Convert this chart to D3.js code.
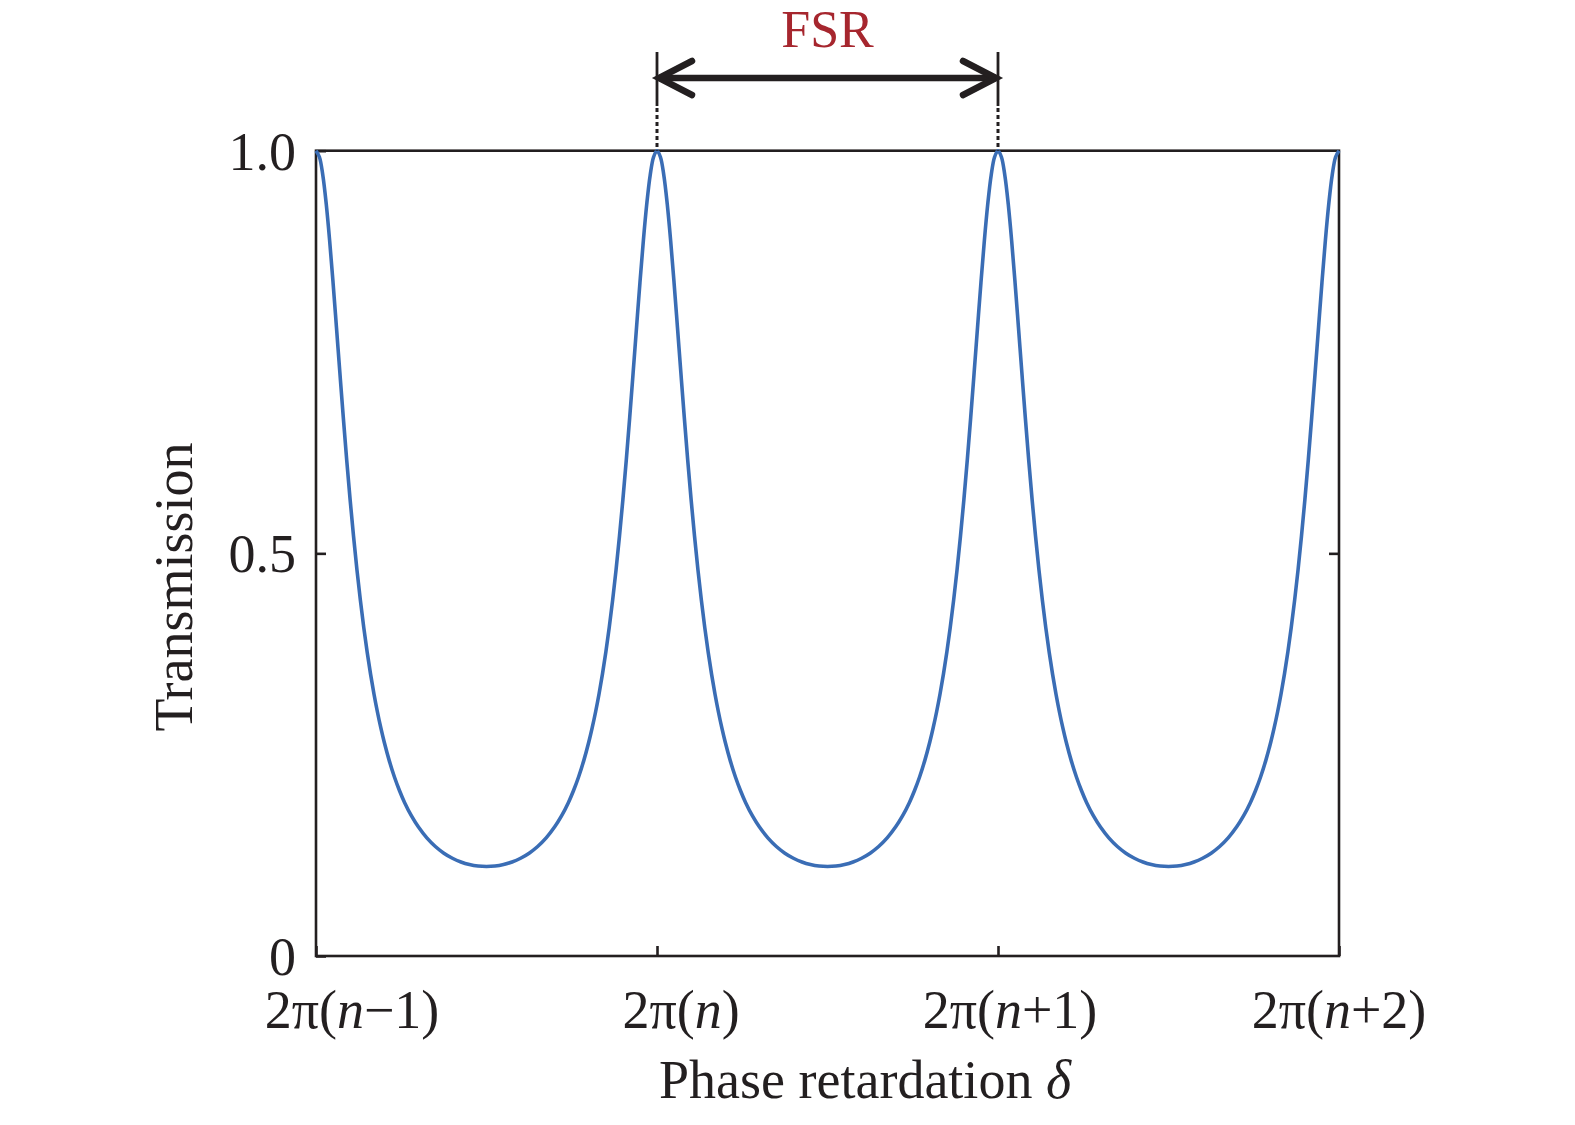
<!DOCTYPE html>
<html>
<head>
<meta charset="utf-8">
<script src="https://cdn.jsdelivr.net/npm/d3@7/dist/d3.min.js"></script>
<style>
  html, body { margin: 0; padding: 0; background: #fff; }
  svg { display: block; }
  text { font-family: "Liberation Serif", "Times New Roman", serif; fill: #231f20; }
</style>
</head>
<body>
<svg id="chart" width="1575" height="1125"></svg>
<script>
// ---- data (phase in units of 2π, relative to 2π(n-1)) ----
const phase = [
  0.00,0.01,0.02,0.03,0.04,0.05,0.06,0.07,0.08,0.09,0.10,0.11,0.12,0.13,0.14,0.15,0.16,0.17,0.18,0.19,0.20,0.215,0.23,0.245,0.26,0.28,0.30,0.325,0.35,0.375,0.40,0.425,0.45,0.475,
  0.50,0.525,0.55,0.575,0.60,0.625,0.65,0.675,0.70,0.72,0.74,0.755,0.77,0.785,0.80,0.81,0.82,0.83,0.84,0.85,0.86,0.87,0.88,0.89,0.90,0.91,0.92,0.93,0.94,0.95,0.96,0.97,0.98,0.99,
  1.00,1.01,1.02,1.03,1.04,1.05,1.06,1.07,1.08,1.09,1.10,1.11,1.12,1.13,1.14,1.15,1.16,1.17,1.18,1.19,1.20,1.215,1.23,1.245,1.26,1.28,1.30,1.325,1.35,1.375,1.40,1.425,1.45,1.475,
  1.50,1.525,1.55,1.575,1.60,1.625,1.65,1.675,1.70,1.72,1.74,1.755,1.77,1.785,1.80,1.81,1.82,1.83,1.84,1.85,1.86,1.87,1.88,1.89,1.90,1.91,1.92,1.93,1.94,1.95,1.96,1.97,1.98,1.99,
  2.00,2.01,2.02,2.03,2.04,2.05,2.06,2.07,2.08,2.09,2.10,2.11,2.12,2.13,2.14,2.15,2.16,2.17,2.18,2.19,2.20,2.215,2.23,2.245,2.26,2.28,2.30,2.325,2.35,2.375,2.40,2.425,2.45,2.475,
  2.50,2.525,2.55,2.575,2.60,2.625,2.65,2.675,2.70,2.72,2.74,2.755,2.77,2.785,2.80,2.81,2.82,2.83,2.84,2.85,2.86,2.87,2.88,2.89,2.90,2.91,2.92,2.93,2.94,2.95,2.96,2.97,2.98,2.99,
  3.00
];
const transmission = [
  1.0000,0.9922,0.9695,0.9339,0.8884,0.8363,0.7806,0.7243,0.6690,0.6162,0.5669,0.5215,0.4798,0.4422,0.4081,0.3775,0.3500,0.3254,0.3033,0.2835,0.2657,0.2423,0.2223,0.2052,0.1904,0.1739,0.1604,0.1467,0.1360,0.1277,0.1214,0.1168,0.1136,0.1117,
  0.1111,0.1117,0.1136,0.1168,0.1214,0.1277,0.1360,0.1467,0.1604,0.1739,0.1904,0.2052,0.2223,0.2423,0.2657,0.2835,0.3033,0.3254,0.3500,0.3775,0.4081,0.4422,0.4798,0.5215,0.5669,0.6162,0.6690,0.7243,0.7806,0.8363,0.8884,0.9339,0.9695,0.9922,
  1.0000,0.9922,0.9695,0.9339,0.8884,0.8363,0.7806,0.7243,0.6690,0.6162,0.5669,0.5215,0.4798,0.4422,0.4081,0.3775,0.3500,0.3254,0.3033,0.2835,0.2657,0.2423,0.2223,0.2052,0.1904,0.1739,0.1604,0.1467,0.1360,0.1277,0.1214,0.1168,0.1136,0.1117,
  0.1111,0.1117,0.1136,0.1168,0.1214,0.1277,0.1360,0.1467,0.1604,0.1739,0.1904,0.2052,0.2223,0.2423,0.2657,0.2835,0.3033,0.3254,0.3500,0.3775,0.4081,0.4422,0.4798,0.5215,0.5669,0.6162,0.6690,0.7243,0.7806,0.8363,0.8884,0.9339,0.9695,0.9922,
  1.0000,0.9922,0.9695,0.9339,0.8884,0.8363,0.7806,0.7243,0.6690,0.6162,0.5669,0.5215,0.4798,0.4422,0.4081,0.3775,0.3500,0.3254,0.3033,0.2835,0.2657,0.2423,0.2223,0.2052,0.1904,0.1739,0.1604,0.1467,0.1360,0.1277,0.1214,0.1168,0.1136,0.1117,
  0.1111,0.1117,0.1136,0.1168,0.1214,0.1277,0.1360,0.1467,0.1604,0.1739,0.1904,0.2052,0.2223,0.2423,0.2657,0.2835,0.3033,0.3254,0.3500,0.3775,0.4081,0.4422,0.4798,0.5215,0.5669,0.6162,0.6690,0.7243,0.7806,0.8363,0.8884,0.9339,0.9695,0.9922,
  1.0000
];
const xTickValues = [0, 1, 2, 3];
const xTickLabels = ["2π(n−1)", "2π(n)", "2π(n+1)", "2π(n+2)"];
const yTickValues = [0, 0.5, 1];
const yTickLabels = ["0", "0.5", "1.0"];
const fsrRange = [1, 2];
const fsrLabel = "FSR";
const xTitle = "Phase retardation ";
const xTitleSymbol = "δ";
const yTitle = "Transmission";

// ---- layout ----
const L = 316, R = 1339, T = 150.7, B = 956;
const ink = "#231f20";
const fs = 54;

const svg = d3.select("#chart");
const x = d3.scaleLinear().domain([0, 3]).range([L, R]);
const y = d3.scaleLinear().domain([0, 1]).range([B, T]);
const xLabelPos = d3.scaleLinear().domain([0, 3]).range([352, 1339]);

// box
svg.append("rect")
  .attr("x", L).attr("y", T).attr("width", R - L).attr("height", B - T)
  .attr("fill", "none").attr("stroke", ink).attr("stroke-width", 2.6);

// y axis left
const yAxisL = svg.append("g").attr("transform", `translate(${L},0)`)
  .call(d3.axisLeft(y).tickValues(yTickValues).tickSize(-10).tickPadding(20)
    .tickFormat((d, i) => yTickLabels[i]));
yAxisL.select(".domain").remove();
yAxisL.selectAll("line").attr("stroke", ink).attr("stroke-width", 2.6);
yAxisL.selectAll("text").attr("font-size", fs).attr("font-family", "Liberation Serif").attr("fill", ink)
  .attr("dy", "0.34em");

// y axis right
const yAxisR = svg.append("g").attr("transform", `translate(${R},0)`)
  .call(d3.axisRight(y).tickValues([0.5]).tickSize(-10).tickFormat(""));
yAxisR.select(".domain").remove();
yAxisR.selectAll("line").attr("stroke", ink).attr("stroke-width", 2.6);

// x axis bottom ticks
const xAxis = svg.append("g").attr("transform", `translate(0,${B})`)
  .call(d3.axisBottom(x).tickValues(xTickValues).tickSize(-10).tickFormat(""));
xAxis.select(".domain").remove();
xAxis.selectAll("line").attr("stroke", ink).attr("stroke-width", 2.6);

// x tick labels with italic n
const xl = svg.append("g");
xTickValues.forEach((v, i) => {
  const parts = xTickLabels[i].split("n");
  const t = xl.append("text")
    .attr("x", xLabelPos(v)).attr("y", 1028)
    .attr("text-anchor", "middle").attr("font-size", fs);
  t.append("tspan").text(parts[0]);
  t.append("tspan").attr("font-style", "italic").text("n");
  t.append("tspan").text(parts[1]);
});

// curve
const pts = phase.map((p, i) => [p, transmission[i]]);
svg.append("path")
  .datum(pts)
  .attr("fill", "none")
  .attr("stroke", "#3a6db5")
  .attr("stroke-width", 3.6)
  .attr("stroke-linejoin", "round")
  .attr("d", d3.line().x(d => x(d[0])).y(d => y(d[1])).curve(d3.curveCatmullRom.alpha(0.5)));

// FSR annotation
const ax1 = x(fsrRange[0]), ax2 = x(fsrRange[1]);
const ann = svg.append("g").attr("stroke", ink).attr("fill", "none");
[ax1, ax2].forEach(xx => {
  ann.append("line").attr("x1", xx).attr("x2", xx).attr("y1", 52).attr("y2", 106)
    .attr("stroke-width", 2.8);
  ann.append("line").attr("x1", xx).attr("x2", xx).attr("y1", 108).attr("y2", T)
    .attr("stroke-width", 3).attr("stroke-dasharray", "4,3");
});
const ay = 78;
ann.append("line").attr("x1", ax1 + 2).attr("x2", ax2 - 2).attr("y1", ay).attr("y2", ay)
  .attr("stroke-width", 6.5);
ann.append("path")
  .attr("d", `M${ax1 + 35},${ay - 17} L${ax1 + 2},${ay} L${ax1 + 35},${ay + 17}`)
  .attr("stroke-width", 6.5).attr("stroke-linecap", "round").attr("stroke-linejoin", "miter");
ann.append("path")
  .attr("d", `M${ax2 - 35},${ay - 17} L${ax2 - 2},${ay} L${ax2 - 35},${ay + 17}`)
  .attr("stroke-width", 6.5).attr("stroke-linecap", "round").attr("stroke-linejoin", "miter");

svg.append("text")
  .attr("x", (ax1 + ax2) / 2).attr("y", 47)
  .attr("text-anchor", "middle").attr("font-size", 52)
  .style("fill", "#a6262e")
  .text(fsrLabel);

// axis titles
const xt = svg.append("text")
  .attr("x", 865).attr("y", 1098)
  .attr("text-anchor", "middle").attr("font-size", fs);
xt.append("tspan").text(xTitle);
xt.append("tspan").attr("font-style", "italic").text(xTitleSymbol);

svg.append("text")
  .attr("transform", "translate(192,587) rotate(-90)")
  .attr("text-anchor", "middle").attr("font-size", fs)
  .text(yTitle);
</script>
</body>
</html>
